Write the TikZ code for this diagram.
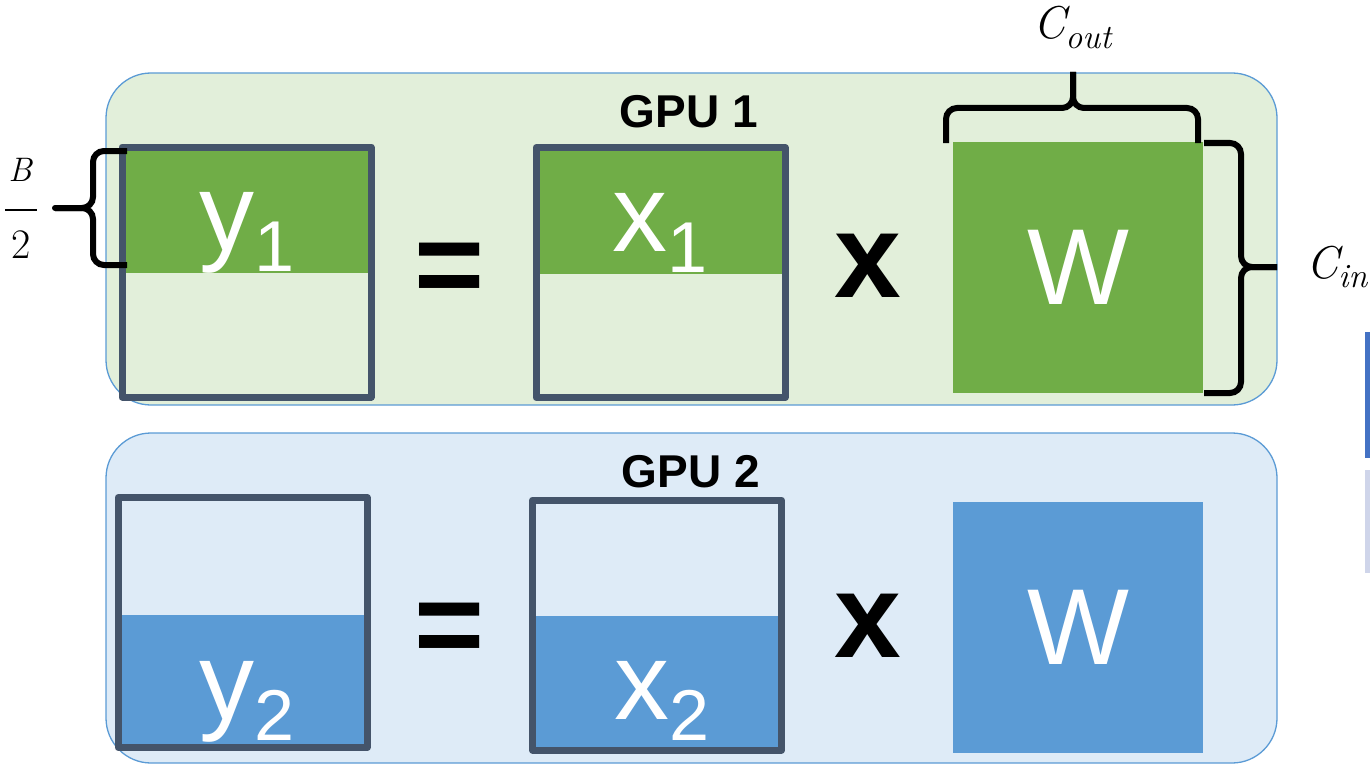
\documentclass[tikz,border=0pt]{standalone}
\usepackage{fontspec}
\newfontfamily\arialfont{Liberation Sans}
\usetikzlibrary{calc}

\definecolor{gpugreen}{HTML}{70AD47}
\definecolor{gpugreenlt}{HTML}{E2EFDA}
\definecolor{gpublue}{HTML}{5B9BD5}
\definecolor{gpubluelt}{HTML}{DEEBF7}
\definecolor{matframe}{HTML}{44546A}
\definecolor{legblue}{HTML}{4472C4}
\definecolor{leggrey}{HTML}{CFD5EA}

\newcommand\bigsans{\arialfont\fontsize{110}{110}\selectfont}
\newcommand\subsans{\arialfont\fontsize{72}{72}\selectfont}
\newcommand\symsans{\arialfont\bfseries\fontsize{120}{120}\selectfont}
\newcommand\mlabel[2]{#1\raisebox{-21pt}{\subsans #2}}
\newcommand\dimlabel[3]{{\itshape\fontsize{46}{50}\selectfont #1}%
  \raisebox{-#3pt}{\itshape\fontsize{34}{38}\selectfont #2}}

\tikzset{
  gpubox/.style={draw=gpublue, line width=1.3pt, rounded corners=45pt,
    inner sep=0pt, minimum width=1171pt},
  matbox/.style={draw=matframe, line width=7pt, line join=round,
    inner sep=0pt, minimum width=249pt, minimum height=250pt},
  wbox/.style={inner sep=0pt, minimum width=250pt, minimum height=251pt,
    text=white, font=\arialfont\fontsize{108}{108}\selectfont},
  mtext/.style={text=white, font=\bigsans, inner sep=0pt, anchor=base west},
  opsym/.style={font=\symsans, inner sep=0pt, anchor=base},
  gputitle/.style={font=\arialfont\bfseries\fontsize{46}{46}\selectfont,
    inner sep=0pt, anchor=base},
  bracepath/.style={line width=6pt, rounded corners=11pt},
  dimtext/.style={inner sep=0pt, anchor=base west}
}

\begin{document}
\begin{tikzpicture}[x=1pt, y=-1pt]
\useasboundingbox (0,0) rectangle (1370,765);

% GPU containers
\node[gpubox, fill=gpugreenlt, minimum height=332pt] (gpu1) at (691.5,239) {};
\node[gpubox, fill=gpubluelt, minimum height=330pt] (gpu2) at (691.5,598) {};

\node[gputitle] (t1) at (689,128) {GPU 1};
\node[gputitle] (t2) at (691,487) {GPU 2};

% GPU 1: top half of y and x
\node[matbox, fill=gpugreenlt, path picture={
    \fill[gpugreen] (path picture bounding box.north west)
      rectangle ($(path picture bounding box.north east)+(0,126)$);}]
  (y1) at (246.5,272) {};
\node[matbox, fill=gpugreenlt, path picture={
    \fill[gpugreen] (path picture bounding box.north west)
      rectangle ($(path picture bounding box.north east)+(0,126)$);}]
  (x1) at (660.5,272.5) {};
\node[wbox, fill=gpugreen] (w1) at (1078,267.5) {W};

\node[mtext] (ly1) at (199,250) {\mlabel{y}{1}};
\node[mtext] (lx1) at (612,251) {\mlabel{x}{1}};
\node[opsym] (eq1) at (450,305) {=};
\node[opsym] (mul1) at (868,297) {x};

% GPU 2: bottom half of y and x
\node[matbox, fill=gpubluelt, path picture={
    \fill[gpublue] ($(path picture bounding box.south west)+(0,-133)$)
      rectangle (path picture bounding box.south east);}]
  (y2) at (242.5,622.5) {};
\node[matbox, fill=gpubluelt, path picture={
    \fill[gpublue] ($(path picture bounding box.south west)+(0,-134)$)
      rectangle (path picture bounding box.south east);}]
  (x2) at (657,625) {};
\node[wbox, fill=gpublue] (w2) at (1078,627.5) {W};

\node[mtext] (ly2) at (199,719) {\mlabel{y}{2}};
\node[mtext] (lx2) at (614,719) {\mlabel{x}{2}};
\node[opsym] (eq2) at (450,665) {=};
\node[opsym] (mul2) at (868,657) {x};

% brace over the rows of y_1 (B/2)
\coordinate (bt) at (127,151);
\coordinate (bb) at (127,265);
\coordinate (btip) at (55,208);
\draw[bracepath] (bt) -- (93,151) -- (93,208) -- (btip);
\draw[bracepath] (bb) -- (93,265) -- (93,208) -- (btip);
\draw[line width=6pt, line cap=round] (70,208) -- (btip);
\node[inner sep=0pt, anchor=base, font=\itshape\fontsize{34}{38}\selectfont]
  (lbnum) at (20,181) {B};
\node[inner sep=0pt, anchor=base, font=\fontsize{42}{46}\selectfont]
  (lbden) at (21,258) {2};
\draw[line width=2.5pt] (5,210) -- (37,210);

% brace over the columns of W (C_out)
\coordinate (cl) at (946,143);
\coordinate (cr) at (1198,143);
\coordinate (ctip) at (1073,72);
\draw[bracepath] (cl) -- (946,108) -- (1073,108) -- (ctip);
\draw[bracepath] (cr) -- (1198,108) -- (1073,108) -- (ctip);
\node[dimtext] (lcout) at (1033,39) {\dimlabel{C}{out}{10}};

% brace beside the rows of W (C_in)
\coordinate (it) at (1204,143);
\coordinate (ib) at (1204,393);
\coordinate (itip) at (1277,267);
\draw[bracepath] (it) -- (1241,143) -- (1241,267) -- (itip);
\draw[bracepath] (ib) -- (1241,393) -- (1241,267) -- (itip);
\node[dimtext] (lcin) at (1306,278) {\dimlabel{C}{in}{9}};

% legend swatches at the right edge
\fill[legblue] (1365,332) rectangle (1375,458);
\fill[leggrey] (1365,470) rectangle (1375,573);
\end{tikzpicture}
\end{document}
